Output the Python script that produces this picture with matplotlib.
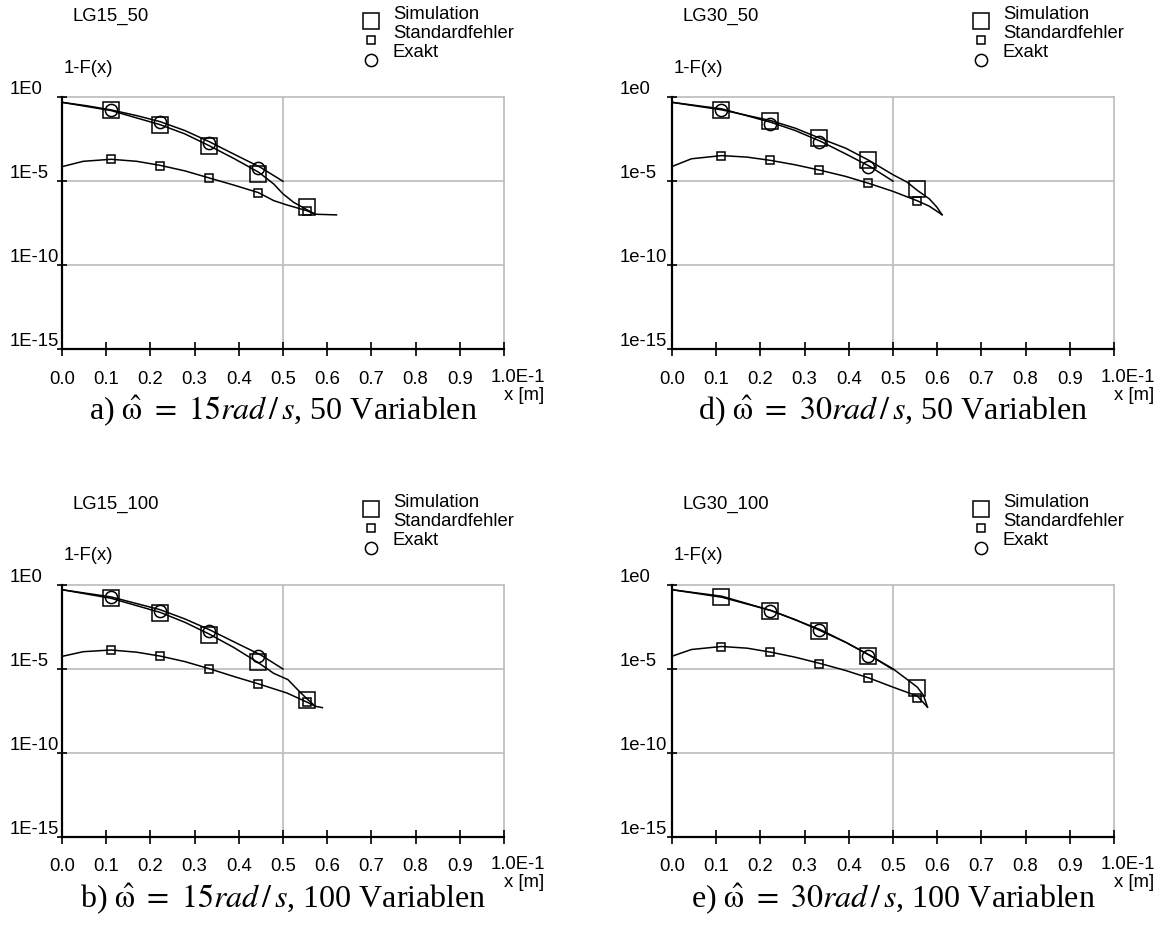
import matplotlib
matplotlib.use("Agg")
import matplotlib.pyplot as plt
import numpy as np

plt.rcParams['font.family'] = ['Liberation Sans', 'DejaVu Sans']
plt.rcParams['mathtext.fontset'] = 'stix'

# marker positions (x axis in units of 1E-1 m)
x_mark = [0.111, 0.222, 0.333, 0.444, 0.555]
x_ticks = [0.0, 0.1, 0.2, 0.3, 0.4, 0.5, 0.6, 0.7, 0.8, 0.9, 1.0]
x_tick_labels = ["0.0", "0.1", "0.2", "0.3", "0.4", "0.5", "0.6", "0.7", "0.8", "0.9", ""]
y_exps = [0, -5, -10, -15]

# all y values given as log10(1-F(x))
# --- LG15_50 ---
a_sim_mark = [-0.77, -1.64, -2.89, -4.57, -6.55]
a_exa_mark = [-0.77, -1.50, -2.73, -4.21]
a_se_mark = [-3.70, -4.06, -4.79, -5.68, -6.75]
a_exa_x = [0.0, 0.055, 0.111, 0.169, 0.222, 0.278, 0.333, 0.388, 0.449, 0.5]
a_exa_y = [-0.30, -0.50, -0.75, -1.09, -1.45, -1.98, -2.64, -3.37, -4.17, -5.0]
a_sim_x = [0.0, 0.111, 0.222, 0.278, 0.333, 0.388, 0.445, 0.479, 0.5, 0.524, 0.554, 0.573, 0.621]
a_sim_y = [-0.30, -0.79, -1.63, -2.18, -2.88, -3.63, -4.46, -5.16, -5.75, -6.25, -6.69, -6.96, -7.0]
a_se_x = [0.0, 0.048, 0.111, 0.169, 0.222, 0.278, 0.333, 0.388, 0.444, 0.479, 0.509, 0.554, 0.573]
a_se_y = [-4.13, -3.81, -3.69, -3.81, -4.05, -4.38, -4.80, -5.22, -5.67, -6.15, -6.41, -6.75, -6.96]

# --- LG15_100 ---
b_sim_mark = [-0.77, -1.67, -2.96, -4.60, -6.83]
b_exa_mark = [-0.73, -1.53, -2.72, -4.20]
b_se_mark = [-3.87, -4.23, -4.98, -5.89, -6.98]
b_exa_x = [0.0, 0.111, 0.222, 0.278, 0.335, 0.388, 0.450, 0.5]
b_exa_y = [-0.28, -0.71, -1.47, -2.02, -2.68, -3.37, -4.17, -5.0]
b_sim_x = [0.0, 0.111, 0.222, 0.278, 0.333, 0.388, 0.445, 0.479, 0.511, 0.539, 0.555, 0.573, 0.589]
b_sim_y = [-0.28, -0.79, -1.63, -2.22, -2.92, -3.71, -4.64, -5.26, -5.63, -6.39, -6.79, -7.22, -7.30]
b_se_x = [0.0, 0.048, 0.111, 0.169, 0.222, 0.278, 0.333, 0.388, 0.445, 0.509, 0.555, 0.573]
b_se_y = [-4.25, -3.97, -3.87, -4.00, -4.23, -4.56, -4.98, -5.44, -5.89, -6.43, -6.98, -7.22]

# --- LG30_50 ---
d_sim_mark = [-0.75, -1.43, -2.44, -3.76, -5.45]
d_exa_mark = [-0.75, -1.56, -2.67, -4.12]
d_se_mark = [-3.50, -3.76, -4.34, -5.13, -6.16]
d_exa_x = [0.0, 0.113, 0.224, 0.279, 0.337, 0.393, 0.448, 0.5]
d_exa_y = [-0.30, -0.69, -1.49, -1.98, -2.63, -3.37, -4.12, -4.99]
d_sim_x = [0.0, 0.113, 0.224, 0.279, 0.335, 0.393, 0.446, 0.5, 0.532, 0.555, 0.582, 0.599, 0.611]
d_sim_y = [-0.30, -0.75, -1.39, -1.84, -2.44, -3.03, -3.76, -4.61, -5.05, -5.54, -6.04, -6.53, -6.99]
d_se_x = [0.0, 0.044, 0.112, 0.170, 0.224, 0.279, 0.335, 0.393, 0.446, 0.5, 0.555, 0.582, 0.611]
d_se_y = [-4.12, -3.66, -3.47, -3.56, -3.76, -4.02, -4.34, -4.71, -5.13, -5.60, -6.16, -6.48, -6.99]

# --- LG30_100 ---
e_sim_mark = [-0.73, -1.56, -2.71, -4.20, -6.15]
e_exa_mark = [-1.56, -2.66, -4.20]
e_se_mark = [-3.71, -4.01, -4.68, -5.56, -6.71]
e_exa_x = [0.0, 0.113, 0.224, 0.279, 0.335, 0.393, 0.448, 0.5]
e_exa_y = [-0.28, -0.67, -1.52, -2.08, -2.65, -3.41, -4.20, -5.03]
e_sim_x = [0.0, 0.113, 0.224, 0.279, 0.335, 0.393, 0.446, 0.5, 0.532, 0.555, 0.569, 0.578]
e_sim_y = [-0.28, -0.73, -1.52, -2.06, -2.71, -3.41, -4.16, -4.99, -5.62, -6.08, -6.57, -7.27]
e_se_x = [0.0, 0.044, 0.112, 0.170, 0.224, 0.279, 0.335, 0.393, 0.446, 0.5, 0.555, 0.578]
e_se_y = [-4.24, -3.84, -3.66, -3.76, -4.00, -4.30, -4.67, -5.09, -5.54, -6.08, -6.61, -7.27]

W, H = 1161, 928
GRID = '#c0c0c0'
FS = 13.3


def draw_panel(fig, left_px, bottom_px, name, ylab_e, caption,
               sim_mark, exa_mark, exa_mark_x, se_mark,
               exa_x, exa_y, sim_x, sim_y, se_x, se_y):
    ax = fig.add_axes([left_px / W, bottom_px / H, 442 / W, 252 / H])
    ax.set_yscale('log')
    ax.set_xlim(0, 1.0)
    ax.set_ylim(1e-15, 1)

    # grid lines
    for yy in [1e0, 1e-5, 1e-10]:
        ax.axhline(yy, color=GRID, lw=1.3, zorder=0, clip_on=False)
    for xx in [0.5, 1.0]:
        ax.axvline(xx, color=GRID, lw=1.3, zorder=0, clip_on=False)

    # curves
    ax.plot(exa_x, 10.0 ** np.array(exa_y), color='black', lw=1.1)
    ax.plot(sim_x, 10.0 ** np.array(sim_y), color='black', lw=1.1)
    ax.plot(se_x, 10.0 ** np.array(se_y), color='black', lw=1.1)

    # markers
    ax.plot(x_mark, 10.0 ** np.array(sim_mark), ls='none', marker='s', ms=11,
            mfc='none', mec='black', mew=1.1, clip_on=False)
    ax.plot(exa_mark_x, 10.0 ** np.array(exa_mark), ls='none', marker='o', ms=8.8,
            mfc='none', mec='black', mew=1.1, clip_on=False)
    ax.plot(x_mark, 10.0 ** np.array(se_mark), ls='none', marker='s', ms=5.8,
            mfc='none', mec='black', mew=1.1, clip_on=False)

    for s in ['top', 'right']:
        ax.spines[s].set_visible(False)
    ax.spines['left'].set_linewidth(1.6)
    ax.spines['bottom'].set_linewidth(1.6)

    ax.set_xticks(x_ticks)
    ax.set_xticklabels(x_tick_labels, fontsize=FS)
    ax.tick_params(axis='x', direction='inout', length=9.5, width=1.2, pad=10)
    ax.set_yticks([10.0 ** e for e in y_exps])
    ax.set_yticklabels([])
    ax.tick_params(axis='y', which='both', direction='inout', length=7, width=1.2)
    ax.yaxis.set_minor_locator(matplotlib.ticker.NullLocator())

    # y tick labels: left aligned, sitting on the tick
    for e in y_exps:
        ax.text(-52 / 442, 10.0 ** e, "1%s%d" % (ylab_e, e), transform=ax.get_yaxis_transform(),
                ha='left', va='bottom', fontsize=FS)

    ax.text(483 / 442, -27 / 252, "1.0E-1", transform=ax.transAxes, ha='right', va='center', fontsize=FS)
    ax.text(482 / 442, -45 / 252, "x [m]", transform=ax.transAxes, ha='right', va='center', fontsize=FS)
    ax.text(1.5 / 442, 1 + 30 / 252, "1-F(x)", transform=ax.transAxes, ha='left', va='center', fontsize=FS)
    ax.text(10 / 442, 1 + 82 / 252, name, transform=ax.transAxes, ha='left', va='center', fontsize=FS)

    # legend
    leg_x = 309 / 442
    txt_x = 331 / 442
    ax.plot([leg_x], [1 + 76 / 252], transform=ax.transAxes, marker='s', ms=11,
            mfc='none', mec='black', mew=1.1, clip_on=False)
    ax.plot([leg_x], [1 + 57.3 / 252], transform=ax.transAxes, marker='s', ms=5.8,
            mfc='none', mec='black', mew=1.1, clip_on=False)
    ax.plot([leg_x], [1 + 37.5 / 252], transform=ax.transAxes, marker='o', ms=8.8,
            mfc='none', mec='black', mew=1.1, clip_on=False)
    for k, lab in enumerate(["Simulation", "Standardfehler", "Exakt"]):
        ax.text(txt_x, 1 + (83.3 - 18.8 * k) / 252, lab, transform=ax.transAxes,
                ha='left', va='center', fontsize=FS)

    ax.text(0.5, -61 / 252, caption, transform=ax.transAxes, ha='center', va='center',
            fontsize=23, family='Liberation Serif')
    return ax


def make_figure():
    fig = plt.figure(figsize=(W / 100, H / 100), dpi=100)
    top_b = H - 350.3
    bot_b = H - 838
    draw_panel(fig, 62, top_b, "LG15_50", "E",
               r"a) $\hat{\mathrm{\omega}}\ =\ 15\mathit{rad}\,/\,\mathit{s}$, 50 Variablen",
               a_sim_mark, a_exa_mark, x_mark[:4], a_se_mark,
               a_exa_x, a_exa_y, a_sim_x, a_sim_y, a_se_x, a_se_y)
    draw_panel(fig, 672, top_b, "LG30_50", "e",
               r"d) $\hat{\mathrm{\omega}}\ =\ 30\mathit{rad}\,/\,\mathit{s}$, 50 Variablen",
               d_sim_mark, d_exa_mark, x_mark[:4], d_se_mark,
               d_exa_x, d_exa_y, d_sim_x, d_sim_y, d_se_x, d_se_y)
    draw_panel(fig, 62, bot_b, "LG15_100", "E",
               r"b) $\hat{\mathrm{\omega}}\ =\ 15\mathit{rad}\,/\,\mathit{s}$, 100 Variablen",
               b_sim_mark, b_exa_mark, x_mark[:4], b_se_mark,
               b_exa_x, b_exa_y, b_sim_x, b_sim_y, b_se_x, b_se_y)
    draw_panel(fig, 672, bot_b, "LG30_100", "e",
               r"e) $\hat{\mathrm{\omega}}\ =\ 30\mathit{rad}\,/\,\mathit{s}$, 100 Variablen",
               e_sim_mark, e_exa_mark, x_mark[1:4], e_se_mark,
               e_exa_x, e_exa_y, e_sim_x, e_sim_y, e_se_x, e_se_y)
    fig.savefig("out.png", dpi=100, facecolor='white')


if __name__ == "__main__":
    make_figure()
